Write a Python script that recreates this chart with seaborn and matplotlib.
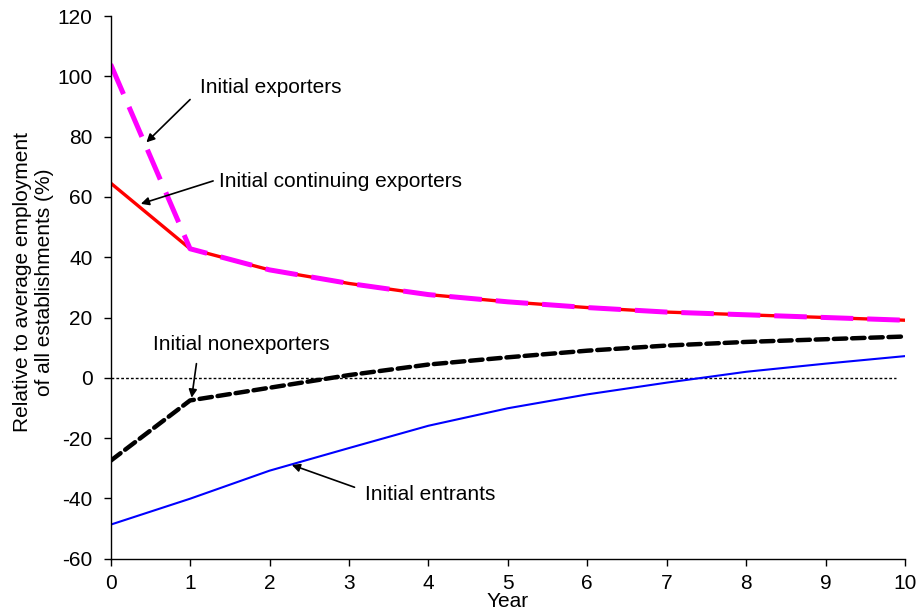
import matplotlib.pyplot as plt
import pandas as pd
import seaborn as sns

years = list(range(11))
exporters = [104, 42.8, 35.8, 31.3, 27.6, 25.2, 23.3, 21.8, 20.9, 20.0, 19.1]
continuing = [64.6, 42.8, 35.8, 31.3, 27.6, 25.2, 23.3, 21.8, 20.9, 20.0, 19.1]
nonexporters = [-27.5, -7.5, -3.3, 0.9, 4.4, 6.8, 9.0, 10.7, 11.9, 12.8, 13.7]
entrants = [-48.7, -40.1, -30.8, -23.3, -15.9, -10.1, -5.5, -1.6, 2.0, 4.7, 7.2]
zero_x = [0, 9.88]
zero_y = [0, 0]

df = pd.DataFrame({
    "year": years,
    "exporters": exporters,
    "continuing": continuing,
    "nonexporters": nonexporters,
    "entrants": entrants,
})

sns.set_style("ticks")
plt.rcParams["font.family"] = ["Liberation Sans", "DejaVu Sans"]
plt.rcParams["axes.unicode_minus"] = False
plt.rcParams["text.color"] = "black"
plt.rcParams["axes.labelcolor"] = "black"

fig, ax = plt.subplots(figsize=(9.22, 6.16), dpi=100)
fig.subplots_adjust(left=0.12, right=0.9816, top=0.974, bottom=0.093)

# zero reference line
ax.plot(zero_x, zero_y, color="black", lw=1, linestyle=(0, (2, 1.5)))

sns.lineplot(data=df, x="year", y="entrants", ax=ax, color="#0000ff", lw=1.5)
sns.lineplot(data=df, x="year", y="continuing", ax=ax, color="#ff0000", lw=2.4)
sns.lineplot(data=df, x="year", y="exporters", ax=ax, color="#ff00ff", lw=3.6)
ax.lines[-1].set_dashes((6.5, 2.8))
sns.lineplot(data=df, x="year", y="nonexporters", ax=ax, color="black", lw=3.2)
ax.lines[-1].set_dashes((2.8, 1.3))
ax.lines[-1].set_dash_capstyle("round")

ax.set_xlim(0, 10)
ax.set_ylim(-60, 120)
ax.set_xticks(range(0, 11))
ax.set_yticks(range(-60, 121, 20))
ax.tick_params(labelsize=15, length=5, width=1, direction="out", colors="black")
ax.tick_params(axis="x", pad=6)
ax.tick_params(axis="y", pad=8)
for s in ["left", "bottom"]:
    ax.spines[s].set_color("black")
    ax.spines[s].set_linewidth(1)
sns.despine(ax=ax)

ax.set_xlabel("Year", fontsize=15)
ax.xaxis.set_label_coords(0.5, -0.062)
ax.set_ylabel("Relative to average employment\nof all establishments (%)", fontsize=15)
ax.yaxis.set_label_coords(-0.071, 0.51)

arrow = dict(arrowstyle="-|>", color="black", lw=1.2, mutation_scale=12, shrinkA=0, shrinkB=0)
ax.annotate("", xy=(0.45, 78.1), xytext=(1.0, 92.3), arrowprops=arrow)
ax.text(1.12, 96.3, "Initial exporters", fontsize=15, va="center")
ax.annotate("", xy=(0.38, 57.7), xytext=(1.29, 65.3), arrowprops=arrow)
ax.text(1.37, 65, "Initial continuing exporters", fontsize=15, va="center")
ax.annotate("", xy=(1.02, -6.6), xytext=(1.08, 4.7), arrowprops=arrow)
ax.text(0.53, 11.2, "Initial nonexporters", fontsize=15, va="center")
ax.annotate("", xy=(2.28, -28.9), xytext=(3.07, -36.3), arrowprops=arrow)
ax.text(3.2, -38.6, "Initial entrants", fontsize=15, va="center")

fig.savefig("out.png", dpi=100)
